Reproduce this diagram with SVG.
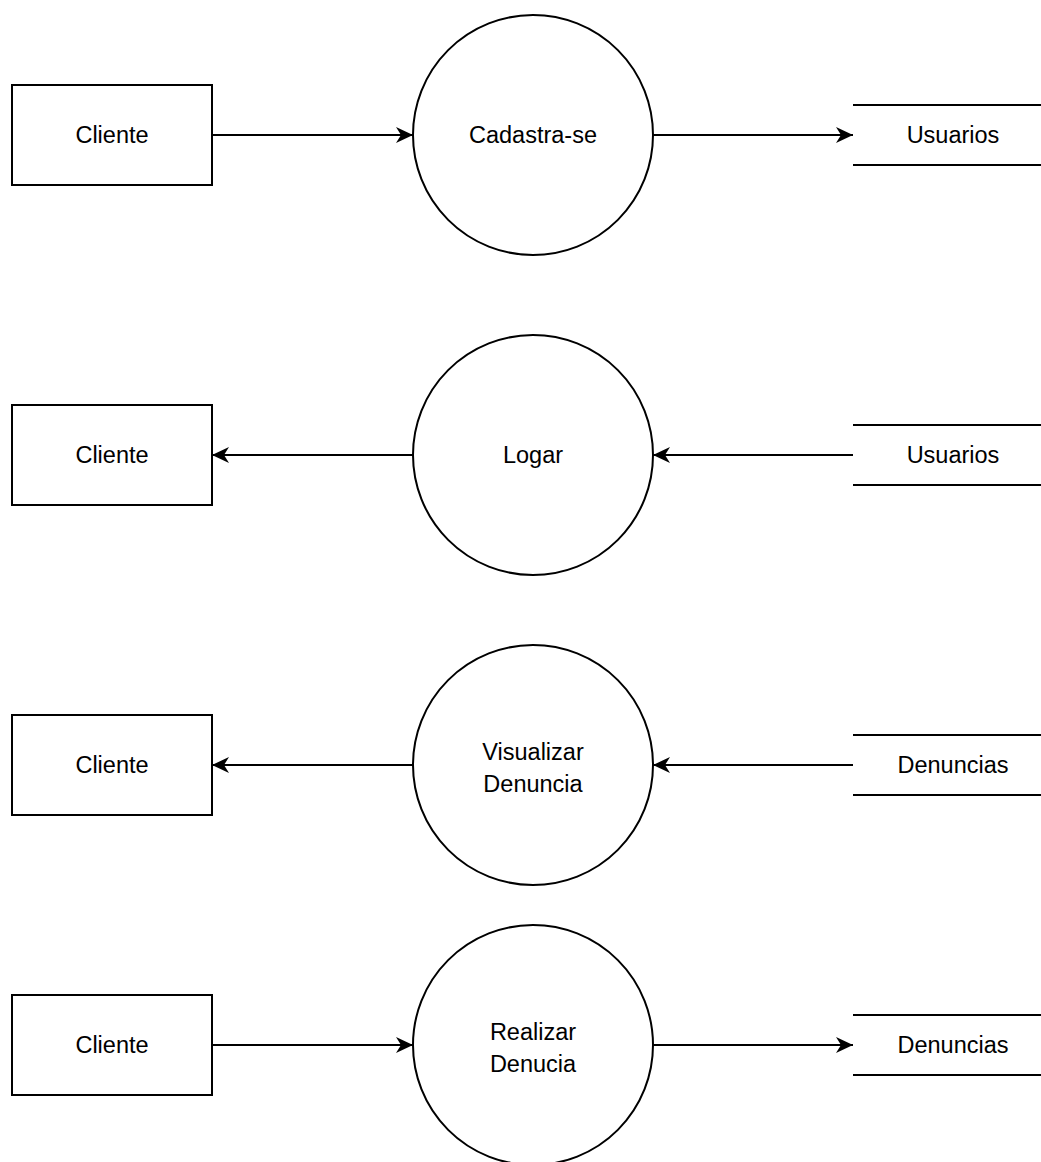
<svg xmlns="http://www.w3.org/2000/svg" width="1041" height="1162" viewBox="0 0 1041 1162">
  <style>
    .box { fill: #ffffff; stroke: #000000; stroke-width: 2; }
    .store { stroke: #000000; stroke-width: 2; fill: none; }
    .edge { stroke: #000000; stroke-width: 2; fill: none; marker-end: url(#arrow); }
    .lbl { font-family: "Liberation Sans", Arial, sans-serif; font-size: 23.5px; fill: #000000; text-anchor: middle; }
  </style>
  <defs>
    <marker id="arrow" viewBox="0 0 17 16" refX="17" refY="8" markerWidth="17" markerHeight="16" orient="auto" markerUnits="userSpaceOnUse">
      <path d="M0,0 L17,8 L0,16 L5,8 Z" fill="#000000"/>
    </marker>
  </defs>
  <rect width="1041" height="1162" fill="#ffffff"/>

  <g id="connectors">
    <line class="edge" x1="212" y1="135" x2="413" y2="135"/>
    <line class="edge" x1="653" y1="135" x2="853" y2="135"/>
    <line class="edge" x1="413" y1="455" x2="212" y2="455"/>
    <line class="edge" x1="853" y1="455" x2="653" y2="455"/>
    <line class="edge" x1="413" y1="765" x2="212" y2="765"/>
    <line class="edge" x1="853" y1="765" x2="653" y2="765"/>
    <line class="edge" x1="212" y1="1045" x2="413" y2="1045"/>
    <line class="edge" x1="653" y1="1045" x2="853" y2="1045"/>
  </g>

  <!-- Row 1 -->
  <g id="cliente1">
    <rect class="box" x="12" y="85" width="200" height="100"/>
    <text class="lbl" x="112" y="143">Cliente</text>
  </g>
  <g id="cadastrase">
    <circle class="box" cx="533" cy="135" r="120"/>
    <text class="lbl" x="533" y="143">Cadastra-se</text>
  </g>
  <g id="usuarios1">
    <line class="store" x1="853" y1="105" x2="1053" y2="105"/>
    <line class="store" x1="853" y1="165" x2="1053" y2="165"/>
    <text class="lbl" x="953" y="143">Usuarios</text>
  </g>

  <!-- Row 2 -->
  <g id="cliente2">
    <rect class="box" x="12" y="405" width="200" height="100"/>
    <text class="lbl" x="112" y="463">Cliente</text>
  </g>
  <g id="logar">
    <circle class="box" cx="533" cy="455" r="120"/>
    <text class="lbl" x="533" y="463">Logar</text>
  </g>
  <g id="usuarios2">
    <line class="store" x1="853" y1="425" x2="1053" y2="425"/>
    <line class="store" x1="853" y1="485" x2="1053" y2="485"/>
    <text class="lbl" x="953" y="463">Usuarios</text>
  </g>

  <!-- Row 3 -->
  <g id="cliente3">
    <rect class="box" x="12" y="715" width="200" height="100"/>
    <text class="lbl" x="112" y="773">Cliente</text>
  </g>
  <g id="visualizar">
    <circle class="box" cx="533" cy="765" r="120"/>
    <text class="lbl" x="533" y="760">Visualizar</text>
    <text class="lbl" x="533" y="792">Denuncia</text>
  </g>
  <g id="denuncias1">
    <line class="store" x1="853" y1="735" x2="1053" y2="735"/>
    <line class="store" x1="853" y1="795" x2="1053" y2="795"/>
    <text class="lbl" x="953" y="773">Denuncias</text>
  </g>

  <!-- Row 4 -->
  <g id="cliente4">
    <rect class="box" x="12" y="995" width="200" height="100"/>
    <text class="lbl" x="112" y="1053">Cliente</text>
  </g>
  <g id="realizar">
    <circle class="box" cx="533" cy="1045" r="120"/>
    <text class="lbl" x="533" y="1040">Realizar</text>
    <text class="lbl" x="533" y="1072">Denucia</text>
  </g>
  <g id="denuncias2">
    <line class="store" x1="853" y1="1015" x2="1053" y2="1015"/>
    <line class="store" x1="853" y1="1075" x2="1053" y2="1075"/>
    <text class="lbl" x="953" y="1053">Denuncias</text>
  </g>
</svg>
